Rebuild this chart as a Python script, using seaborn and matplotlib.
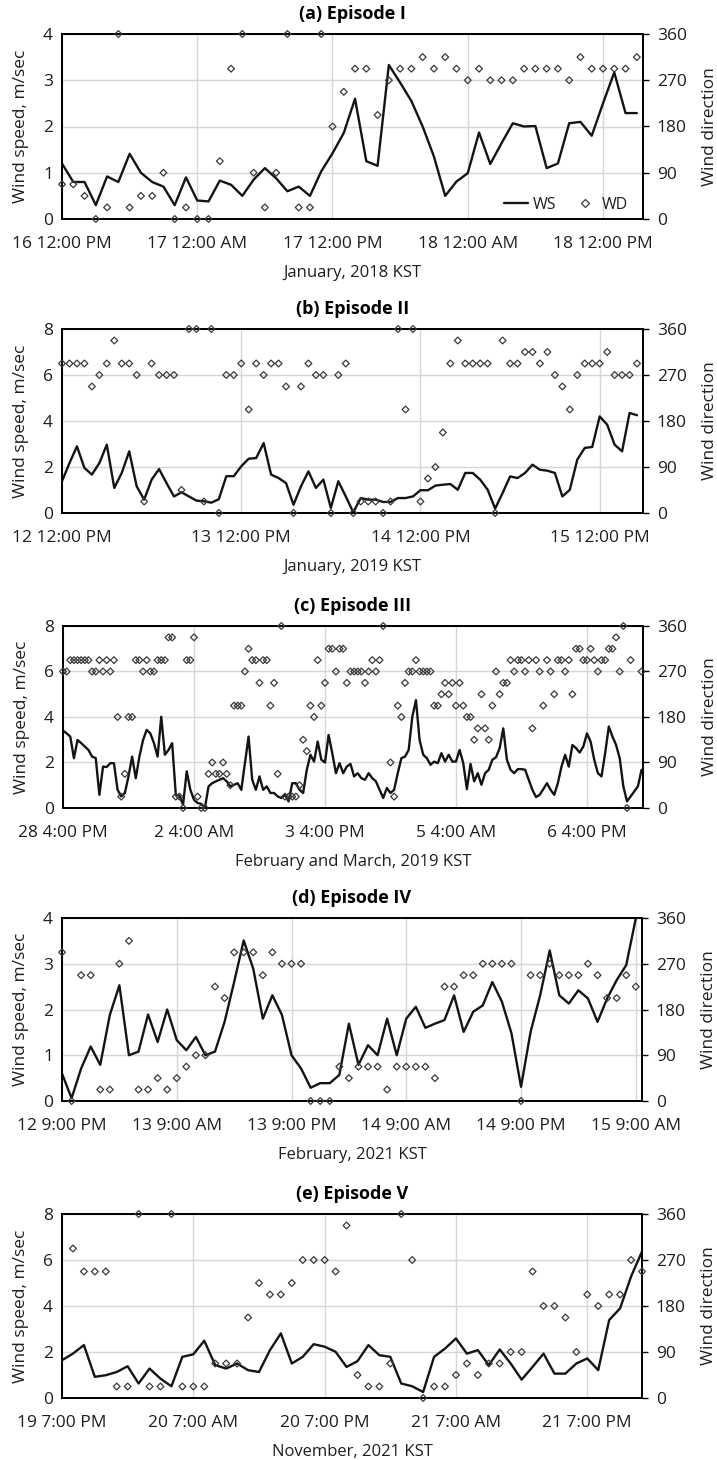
import numpy as np
import matplotlib
matplotlib.use("Agg")
import matplotlib.pyplot as plt
import seaborn as sns
from matplotlib.lines import Line2D

sns.set_theme(style="white")
plt.rcParams["font.family"] = ["Open Sans", "DejaVu Sans"]

nan = np.nan

# ---------------- data (hourly) ----------------
ws_a = [1.2, 0.8, 0.8, 0.3, 0.92, 0.8, 1.41, 1.0, 0.8, 0.7,
        0.3, 0.9, 0.4, 0.38, 0.83, 0.74, 0.5, 0.85, 1.1, 0.88,
        0.6, 0.7, 0.5, 1.03, 1.42, 1.86, 2.6, 1.25, 1.15, 3.33,
        2.95, 2.55, 2.0, 1.35, 0.5, 0.81, 0.99, 1.87, 1.19, 1.64,
        2.07, 2.0, 2.01, 1.1, 1.2, 2.07, 2.1, 1.8, 2.5, 3.17,
        2.29, 2.29]
wd_a = [67.5, 67.5, 45, 0, 22.5, 360, 22.5, 45, 45, 90,
        0, 22.5, 0, 0, 112.5, 292.5, 360, 90, 22.5, 90,
        360, 22.5, 22.5, 360, 180, 247.5, 292.5, 292.5, 202.5, 270,
        292.5, 292.5, 315, 292.5, 315, 292.5, 270, 292.5, 270, 270,
        270, 292.5, 292.5, 292.5, 292.5, 270, 315, 292.5, 292.5, 292.5,
        292.5, 315]

ws_b = [1.38, 2.17, 2.9, 1.96, 1.67, 2.17, 2.97, 1.09, 1.74, 2.68,
        1.16, 0.58, 1.45, 1.91, 1.3, 0.72, 0.9, 0.72, 0.54, 0.51,
        0.45, 0.6, 1.6, 1.6, 2.03, 2.36, 2.39, 3.04, 1.67, 1.52,
        1.3, 0.36, 1.16, 1.81, 1.09, 1.45, 0.22, 1.38, 0.72, 0.03,
        0.65, 0.58, 0.58, 0.48, 0.48, 0.65, 0.65, 0.72, 0.99, 0.99,
        1.19, 1.23, 1.26, 1.01, 1.74, 1.74, 1.45, 1.01, 0.19, 0.87,
        1.59, 1.52, 1.74, 2.1, 1.88, 1.84, 1.74, 0.72, 1.01, 2.32,
        2.83, 2.87, 4.2, 3.84, 2.97, 2.68, 4.35, 4.25]
wd_b = [292.5, 292.5, 292.5, 292.5, 247.5, 270, 292.5, 337.5, 292.5, 292.5,
        270, 22.5, 292.5, 270, 270, 270, 45, 360, 360, 22.5,
        360, 0, 270, 270, 292.5, 202.5, 292.5, 270, 292.5, 292.5,
        247.5, 0, 247.5, 292.5, 270, 270, 0, 270, 292.5, 0,
        22.5, 22.5, 22.5, 0, 22.5, 360, 202.5, 360, 22.5, 67.5,
        90, 157.5, 292.5, 337.5, 292.5, 292.5, 292.5, 292.5, 0, 337.5,
        292.5, 292.5, 315, 315, 292.5, 315, 270, 247.5, 202.5, 270,
        292.5, 292.5, 292.5, 315, 270, 270, 270, 292.5]

ws_c = [3.40, 3.28, 3.14, 2.19, 2.99, 2.85, 2.70, 2.55, 2.26, 2.19,
        0.58, 1.82, 1.80, 1.97, 1.97, 0.80, 0.51, 0.66, 1.39, 2.26,
        1.31, 2.26, 2.99, 3.43, 3.28, 2.85, 2.26, 4.01, 2.34, 2.55,
        2.85, 0.58, 0.54, 0.15, 1.61, 0.80, 0.36, 0.22, 0.18, 0.0,
        0.95, 1.09, 1.17, 1.24, 1.31, 1.17, 0.95, 1.02, 1.09, 0.80,
        1.97, 3.14, 1.24, 0.80, 1.39, 0.80, 0.95, 0.66, 0.66, 0.51,
        0.44, 0.58, 0.29, 1.09, 1.09, 0.80, 0.66, 1.68, 2.34, 2.04,
        2.92, 2.12, 2.00, 3.21, 2.41, 1.53, 1.97, 1.53, 1.82, 1.94,
        1.39, 1.53, 1.31, 1.24, 1.53, 1.31, 1.17, 0.80, 0.44, 0.88,
        0.66, 0.80, 1.53, 2.19, 2.26, 2.55, 4.01, 4.74, 2.99, 2.34,
        2.19, 1.90, 2.04, 1.97, 2.41, 2.04, 2.34, 2.04, 2.04, 2.55,
        1.97, 0.83, 1.94, 1.17, 1.53, 1.02, 1.53, 1.68, 2.12, 2.23,
        2.63, 3.50, 2.12, 1.68, 1.53, 1.71, 1.71, 1.68, 1.24, 0.80,
        0.48, 0.58, 0.83, 1.09, 0.80, 0.58, 1.09, 1.82, 2.34, 1.82,
        2.77, 2.63, 2.44, 2.70, 3.28, 2.92, 2.12, 1.53, 1.39, 2.41,
        3.58, 3.14, 2.77, 2.19, 0.95, 0.29, 0.51, 0.73, 0.95, 1.68]
wd_c = [270, 270, 292.5, 292.5, 292.5, 292.5, 292.5, 292.5, 270, 270,
        292.5, 270, 292.5, 270, 292.5, 180, 22.5, 67.5, 180, 180,
        292.5, 292.5, 270, 292.5, 270, 270, 292.5, 292.5, 292.5, 337.5,
        337.5, 22.5, 22.5, 0, 292.5, 292.5, 337.5, 22.5, 0, 0,
        67.5, 90, 67.5, 67.5, 90, 67.5, 45, 202.5, 202.5, 202.5,
        270, 315, 292.5, 292.5, 247.5, 292.5, 292.5, 202.5, 247.5, 67.5,
        360, 22.5, 22.5, 22.5, 22.5, 45, 135, 112.5, 202.5, 180,
        292.5, 202.5, 247.5, 315, 315, 270, 315, 315, 247.5, 270,
        270, 270, 270, 247.5, 270, 292.5, 270, 292.5, 360, nan,
        90, 22.5, 202.5, 180, 247.5, 270, 270, 292.5, 270, 270,
        270, 270, 202.5, 202.5, 225, 247.5, 225, 247.5, 202.5, 247.5,
        202.5, 180, 180, 135, 157.5, 225, 157.5, 135, 202.5, 270,
        225, 247.5, 247.5, 292.5, 270, 292.5, 292.5, 270, 292.5, 157.5,
        292.5, 270, 202.5, 292.5, 270, 225, 292.5, 292.5, 270, 292.5,
        225, 315, 315, 292.5, 292.5, 315, 292.5, 270, 292.5, 292.5,
        315, 315, 337.5, 270, 360, 0, 292.5, nan, nan, 270]

ws_d = [0.6, 0.06, 0.71, 1.19, 0.79, 1.88, 2.53, 1.0, 1.08, 1.89,
        1.29, 2.0, 1.33, 1.11, 1.40, 1.0, 1.08, 1.73, 2.6, 3.51,
        2.89, 1.8, 2.31, 1.88, 1.0, 0.71, 0.29, 0.39, 0.39, 0.57,
        1.69, 0.79, 1.22, 1.0, 1.80, 1.0, 1.80, 2.06, 1.6, 1.69,
        1.77, 2.31, 1.51, 1.95, 2.09, 2.6, 2.17, 1.48, 0.31, 1.51,
        2.31, 3.29, 2.31, 2.13, 2.42, 2.24, 1.73, 2.24, 2.64, 2.97,
        3.99]
wd_d = [292.5, 0, 247.5, 247.5, 22.5, 22.5, 270, 315, 22.5, 22.5,
        45, 22.5, 45, 67.5, 90, 90, 225, 202.5, 292.5, 292.5,
        292.5, 247.5, 292.5, 270, 270, 270, 0, 0, 0, 67.5,
        45, 67.5, 67.5, 67.5, 22.5, 67.5, 67.5, 67.5, 67.5, 45,
        225, 225, 247.5, 247.5, 270, 270, 270, 270, 0, 247.5,
        247.5, 270, 247.5, 247.5, 247.5, 270, 247.5, 202.5, 202.5, 247.5,
        225]

ws_e = [1.64, 1.93, 2.3, 0.92, 0.99, 1.13, 1.38, 0.63, 1.28, 0.84,
        0.51, 1.79, 1.9, 2.49, 1.43, 1.28, 1.5, 1.21, 1.13, 2.08,
        2.81, 1.5, 1.79, 2.34, 2.23, 2.01, 1.35, 1.6, 2.3, 1.86,
        1.79, 0.63, 0.51, 0.26, 1.79, 2.15, 2.59, 1.93, 2.08, 1.43,
        2.11, 1.5, 0.8, 1.35, 1.93, 1.06, 1.06, 1.5, 1.72, 1.21,
        3.39, 3.9, 5.28, 6.37]
wd_e = [nan, 292.5, 247.5, 247.5, 247.5, 22.5, 22.5, 360, 22.5, 22.5,
        360, 22.5, 22.5, 22.5, 67.5, 67.5, 67.5, 157.5, 225, 202.5,
        202.5, 225, 270, 270, 270, 247.5, 337.5, 45, 22.5, 22.5,
        67.5, 360, 270, 0, 22.5, 22.5, 45, 67.5, 45, 67.5,
        67.5, 90, 90, 247.5, 180, 180, 157.5, 90, 202.5, 180,
        202.5, 202.5, 270, 247.5]

titles = ["(a) Episode I", "(b) Episode II", "(c) Episode III",
          "(d) Episode IV", "(e) Episode V"]
xlabels = ["January, 2018 KST", "January, 2019 KST",
           "February and March, 2019 KST", "February, 2021 KST",
           "November, 2021 KST"]
tick_hours_a = [0, 12, 24, 36, 48]
tick_labels_a = ["16 12:00 PM", "17 12:00 AM", "17 12:00 PM", "18 12:00 AM", "18 12:00 PM"]
tick_hours_b = [0, 24, 48, 72]
tick_labels_b = ["12 12:00 PM", "13 12:00 PM", "14 12:00 PM", "15 12:00 PM"]
tick_hours_c = [0, 36, 72, 108, 144]
tick_labels_c = ["28 4:00 PM", "2 4:00 AM", "3 4:00 PM", "5 4:00 AM", "6 4:00 PM"]
tick_hours_d = [0, 12, 24, 36, 48, 60]
tick_labels_d = ["12 9:00 PM", "13 9:00 AM", "13 9:00 PM", "14 9:00 AM", "14 9:00 PM", "15 9:00 AM"]
tick_hours_e = [0, 12, 24, 36, 48]
tick_labels_e = ["19 7:00 PM", "20 7:00 AM", "20 7:00 PM", "21 7:00 AM", "21 7:00 PM"]
ws_max = [4, 8, 8, 4, 8]
wd_ticks = [0, 90, 180, 270, 360]

panels = [
    (ws_a, wd_a, tick_hours_a, tick_labels_a, 51.55),
    (ws_b, wd_b, tick_hours_b, tick_labels_b, 77.8),
    (ws_c, wd_c, tick_hours_c, tick_labels_c, 159.4),
    (ws_d, wd_d, tick_hours_d, tick_labels_d, 60.65),
    (ws_e, wd_e, tick_hours_e, tick_labels_e, 53.0),
]

# ---------------- layout ----------------
W, H = 717, 1460
boxes = [(62, 643, 34, 219), (62, 643, 329, 513), (63, 643, 626, 808),
         (62, 642, 918, 1101), (62, 642, 1214, 1398)]

fig = plt.figure(figsize=(W / 100, H / 100), dpi=100)
fig.patch.set_facecolor("white")

TXT = "#1e1e1e"
LINE = "#141414"
MK = "#3a3a3a"
GRID = "#d6d6d6"
FS = 12.5

for k, ((ws, wd, th, tl, xmax), (l, r, t, b)) in enumerate(zip(panels, boxes)):
    ax = fig.add_axes([l / W, 1 - b / H, (r - l) / W, (b - t) / H])
    ax2 = ax.twinx()
    ax.set_axisbelow(True)

    sns.lineplot(x=np.arange(len(ws)), y=np.array(ws, float), ax=ax,
                 color=LINE, lw=1.7, zorder=2)
    sns.scatterplot(x=np.arange(len(wd)), y=np.array(wd, float), ax=ax2,
                    marker="D", s=12, facecolor="none", edgecolor=MK,
                    linewidth=0.9, clip_on=False, zorder=3)

    ymax = ws_max[k]
    ax.set_xlim(0, xmax)
    ax.set_ylim(0, ymax)
    ax2.set_ylim(0, 360)
    step = 1 if ymax == 4 else 2
    ax.set_yticks(np.arange(0, ymax + 0.01, step))
    ax.set_yticklabels([f"{v:g}" for v in np.arange(0, ymax + 0.01, step)])
    ax2.set_yticks(wd_ticks)
    ax2.set_yticklabels([str(v) for v in wd_ticks])
    ax.set_xticks(th)
    ax.set_xticklabels(tl)

    ax.grid(True, color=GRID, lw=1.0)
    ax2.grid(False)

    ax.tick_params(axis="x", length=0, pad=12.5, labelsize=FS, labelcolor=TXT)
    ax.tick_params(axis="y", length=0, pad=6.5, labelsize=FS, labelcolor=TXT)
    ax2.tick_params(axis="y", length=4, width=1.0, color="black", pad=6,
                    labelsize=FS, labelcolor=TXT, direction="out")

    for a in (ax, ax2):
        for s in a.spines.values():
            s.set_color("black")
            s.set_linewidth(1.3)
            s.set_visible(True)

    ax.set_xlabel(xlabels[k], fontsize=12, color=TXT, labelpad=9)
    ax.set_ylabel("Wind speed, m/sec", fontsize=FS, color=TXT)
    ax2.set_ylabel("Wind direction", fontsize=FS, color=TXT)
    ax.yaxis.set_label_coords(-0.057, 0.5)
    ax2.yaxis.set_label_coords(1.102, 0.5)
    ax.set_title(titles[k], fontsize=13, fontweight="bold", color="black", pad=11)

    if k == 0:
        handles = [Line2D([0], [0], color=LINE, lw=1.7, label="WS"),
                   Line2D([0], [0], marker="D", ls="none", mfc="none", mec=MK,
                          ms=3.8, mew=0.9, label="WD")]
        ax2.legend(handles=handles, loc="center right", bbox_to_anchor=(0.975, 0.076),
                   ncol=2, frameon=False, fontsize=FS - 1, handlelength=1.5,
                   columnspacing=1.0, handletextpad=0.35, borderaxespad=0,
                   borderpad=0, labelcolor=TXT)
    else:
        leg = ax2.get_legend()
        if leg is not None:
            leg.remove()

fig.savefig("out.png", dpi=100, facecolor="white")
